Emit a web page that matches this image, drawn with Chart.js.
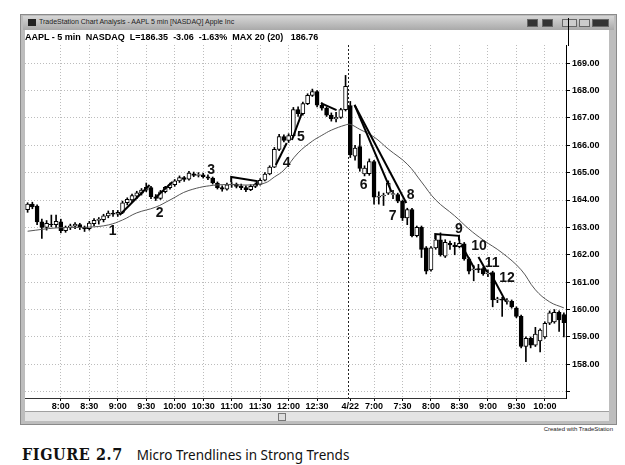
<!DOCTYPE html>
<html>
<head>
<meta charset="utf-8">
<script src="https://cdn.jsdelivr.net/npm/chart.js@4.4.1/dist/chart.umd.min.js"></script>
<style>
  body { margin: 0; width: 625px; height: 465px; background: #fff; position: relative; overflow: hidden; font-family: "Liberation Sans", Arial, sans-serif; }
  #win { position: absolute; left: 20px; top: 14px; width: 597px; height: 411px; background: #bdbdbd; border: 1px solid #8a8a8a; box-sizing: border-box; }
  #titlebar { position: absolute; left: 23px; top: 16px; width: 591px; height: 14px; background: linear-gradient(#d6d6d6, #a9a9a9); }
  #titlebar .icon { position: absolute; left: 5px; top: 3px; width: 8px; height: 7px; background: #222; }
  #titlebar .txt { position: absolute; left: 16px; top: 2px; font-size: 7px; color: #222; white-space: nowrap; }
  #titlebar .btn { position: absolute; top: 3px; height: 8px; background: #333; border: 1px solid #666; box-sizing: border-box; }
  #panel { position: absolute; left: 25px; top: 30px; width: 584px; height: 381px; background: #fff; }
  #hdr { position: absolute; left: 25px; top: 32px; font-size: 9px; font-weight: bold; color: #000; white-space: nowrap; z-index: 2; }
  #axisline { position: absolute; left: 568px; top: 18px; width: 1px; height: 28px; background: #000; z-index: 3; }
  #scroll { position: absolute; left: 25px; top: 411px; width: 584px; height: 10px; background: #e4e4e4; border-top: 1px solid #a0a0a0; box-sizing: border-box; }
  #scroll .thumb { position: absolute; left: 253px; top: 1px; width: 6px; height: 6px; border: 1px solid #777; background: #ddd; }
  #credit { position: absolute; right: 12px; top: 426px; font-size: 6px; color: #222; }
  #caption { position: absolute; left: 22px; top: 445px; white-space: nowrap; }
  #caption .fig { font-family: "DejaVu Serif Condensed", "DejaVu Serif", serif; font-weight: bold; font-size: 16px; letter-spacing: 0.6px; color: #111; }
  #caption .cap { font-family: "Noto Sans", "Open Sans", sans-serif; font-size: 13.5px; color: #111; margin-left: 14px; }
  #chart { position: absolute; left: 25px; top: 30px; z-index: 1; }
</style>
</head>
<body>
<div id="win"></div>
<div id="titlebar">
  <div class="icon"></div>
  <div class="txt">TradeStation Chart Analysis - AAPL 5 min [NASDAQ] Apple Inc</div>
  <div class="btn" style="left:504px;width:11px"></div>
  <div class="btn" style="left:519px;width:11px"></div>
  <div class="btn" style="left:539px;width:15px;background:#ccc"></div>
  <div class="btn" style="left:556px;width:11px;background:#ccc"></div>
  <div class="btn" style="left:569px;width:17px"></div>
</div>
<div id="panel"></div>
<canvas id="chart" width="582" height="381"></canvas>
<div id="hdr">AAPL - 5 min&nbsp; NASDAQ&nbsp; L=186.35&nbsp; -3.06&nbsp; -1.63%&nbsp; MAX 20 (20)&nbsp;&nbsp; 186.76</div>
<div id="axisline"></div>
<div id="scroll"><div class="thumb"></div></div>
<div id="credit">Created with TradeStation</div>
<div id="caption"><span class="fig">FIGURE 2.7</span><span class="cap">Micro Trendlines in Strong Trends</span></div>

<script>
// 5 min bars, 4/21 7:25 .. 13:00, then 4/22 6:35 .. 10:20 (one entry per bar)
const barOpen = [
  163.65,163.85,163.78,163.20,163.00,163.12,163.10,163.20,162.88,163.00,
  163.04,163.10,163.00,162.95,163.14,163.25,163.28,163.42,163.52,163.48,
  163.55,163.90,164.00,164.14,164.25,164.36,164.45,164.12,164.06,164.30,
  164.45,164.56,164.70,164.82,164.76,164.96,164.90,164.92,164.85,164.80,
  164.62,164.45,164.40,164.55,164.58,164.50,164.45,164.38,164.50,164.57,
  164.72,164.95,165.20,165.85,166.32,166.18,166.35,167.30,167.15,167.52,
  167.82,167.96,167.46,167.35,167.10,166.96,167.02,167.30,
  167.45,165.60,165.95,164.95,164.96,165.40,164.10,164.15,164.25,164.20,
  164.20,163.95,163.35,163.65,162.70,163.00,162.25,161.45,162.25,162.55,
  161.95,162.42,162.35,162.30,162.40,161.85,161.45,161.50,161.50,161.30,
  161.35,160.35,160.38,160.30,160.30,160.05,159.75,158.65,158.95,158.70,
  158.85,159.00,159.50,159.55,159.90,159.82
];
const barHigh = [
  163.90,163.92,163.82,163.30,163.25,163.45,163.45,163.30,163.05,163.12,
  163.18,163.15,163.05,163.22,163.32,163.36,163.48,163.60,163.62,163.62,
  163.96,164.08,164.22,164.32,164.42,164.62,164.50,164.20,164.35,164.50,
  164.62,164.75,164.88,164.86,165.05,165.02,165.00,164.98,164.92,164.84,
  164.66,164.52,164.62,164.64,164.62,164.58,164.52,164.56,164.62,164.78,
  165.00,165.25,165.92,166.40,166.38,166.42,167.38,167.40,167.58,167.88,
  168.05,168.00,167.55,167.40,167.18,167.20,167.35,168.55,
  167.60,166.00,166.40,165.25,165.50,165.45,164.30,164.25,164.70,164.35,
  164.25,164.00,163.70,163.70,163.05,163.05,162.30,162.30,162.70,162.80,
  162.55,162.50,162.45,162.55,162.45,161.90,161.60,161.65,161.55,161.45,
  161.40,160.45,160.45,160.40,160.35,160.10,159.80,159.00,159.00,159.35,
  159.30,159.55,159.95,160.00,159.95,159.88
];
const barLow = [
  163.55,163.68,163.10,162.60,162.90,163.02,163.00,162.80,162.82,162.92,
  162.95,162.92,162.85,162.90,163.05,163.12,163.20,163.35,163.40,163.40,
  163.50,163.82,163.92,164.05,164.18,164.30,164.05,163.98,164.02,164.26,
  164.40,164.50,164.64,164.68,164.72,164.85,164.84,164.80,164.74,164.58,
  164.40,164.32,164.36,164.46,164.44,164.38,164.30,164.34,164.45,164.54,
  164.70,164.92,165.18,165.80,166.12,166.10,166.30,167.05,167.10,167.48,
  167.78,167.40,167.28,167.05,166.88,166.85,166.98,167.25,
  165.55,165.45,165.05,164.88,164.90,163.85,163.85,163.80,164.20,164.05,
  163.90,163.25,163.10,162.65,162.65,161.90,161.30,161.40,162.20,161.95,
  161.90,162.20,162.00,162.25,161.80,161.30,161.05,161.35,161.25,161.20,
  160.10,160.25,159.75,160.20,160.05,159.70,158.60,158.10,158.60,158.65,
  158.45,158.95,159.45,159.50,159.20,159.00
];
const barClose = [
  163.85,163.75,163.20,163.00,163.15,163.10,163.22,162.88,163.00,163.06,
  163.12,163.00,162.94,163.16,163.26,163.30,163.42,163.52,163.48,163.55,
  163.90,164.02,164.16,164.26,164.36,164.46,164.12,164.06,164.30,164.46,
  164.56,164.70,164.82,164.75,164.98,164.90,164.93,164.85,164.80,164.62,
  164.45,164.40,164.55,164.58,164.50,164.45,164.38,164.50,164.57,164.72,
  164.95,165.20,165.85,166.32,166.18,166.35,167.30,167.15,167.52,167.82,
  167.96,167.46,167.35,167.10,166.96,167.02,167.30,168.15,
  165.65,165.90,165.15,165.17,165.40,164.10,164.14,164.18,164.62,164.23,
  163.96,163.35,163.65,162.70,163.00,162.20,161.40,162.25,162.55,162.00,
  162.45,162.36,162.30,162.42,161.85,161.40,161.49,161.45,161.30,161.33,
  160.35,160.39,160.34,160.33,160.10,159.75,158.65,158.95,158.70,159.10,
  159.25,159.50,159.88,159.90,159.62,159.52
];

// 20 bar average at some bars
const maIdx = [0, 6, 13, 17, 20, 23, 27, 30, 34, 40, 47, 50, 52, 54, 57, 60, 62, 64, 67,
               68, 70, 73, 76, 80, 83, 86, 90, 93, 96, 100, 104, 107, 110, 113];
const maVal = [162.86, 162.98, 163.01, 163.09, 163.27, 163.53, 163.74, 164.00, 164.35, 164.55, 164.55, 164.62, 164.84, 165.09, 165.72, 166.15, 166.36, 166.55, 166.74,
               166.76, 166.58, 166.30, 165.86, 165.31, 164.66, 164.00, 163.42, 162.94, 162.54, 162.07, 161.45, 160.72, 160.28, 160.06];

// x axis
const tickPos = [7, 13, 19, 25, 31, 37, 43, 49, 55, 61, 68, 73, 79, 85, 91, 97, 103, 109];
const tickLabels = ['8:00','8:30','9:00','9:30','10:00','10:30','11:00','11:30','12:00','12:30',
                    '4/22','7:00','7:30','8:00','8:30','9:00','9:30','10:00'];
const daySplit = 67.6;
// y axis
const priceTicks = [157, 158, 159, 160, 161, 162, 163, 164, 165, 166, 167, 168, 169];

// micro trendlines drawn on the chart: [bar, price] pairs
const trendLines = [
  [[19.4, 163.45], [25.7, 164.55]],
  [[27.1, 164.11], [30.5, 164.66]],
  [[42.9, 164.65], [42.9, 164.84], [48.3, 164.69], [48.3, 164.52]],
  [[52.3, 165.28], [54.6, 166.08]],
  [[55.7, 166.19], [57.8, 167.18]],
  [[61.8, 167.54], [65.1, 167.28]],
  [[68.9, 167.47], [76.7, 164.29]],
  [[68.9, 167.47], [79.8, 163.89]],
  [[85.9, 162.58], [85.9, 162.76], [90.9, 162.69], [90.9, 162.52]],
  [[91.4, 162.36], [94.1, 161.52]],
  [[95.0, 161.92], [96.8, 161.37]],
  [[97.5, 161.34], [100.8, 160.28]]
];
const labelText = ['1','2','3','4','5','6','7','8','9','10','11','12'];
const labelX = [17.9, 27.8, 38.7, 54.6, 57.6, 70.8, 76.9, 80.7, 90.9, 95.1, 97.9, 101.0];
const labelY = [162.87, 163.53, 165.09, 165.35, 166.30, 164.55, 163.42, 164.18, 162.94, 162.32, 161.70, 161.15];


const wickData = barHigh.map((h, i) => ({ x: i, y: [barLow[i], h] }));
const bodyData = barOpen.map((o, i) => ({ x: i, y: [o, barClose[i]] }));
const maData = maIdx.map((b, i) => ({ x: b, y: maVal[i] }));

let datasets = [
  {
    type: 'bar', data: wickData, barThickness: 1, backgroundColor: '#000',
    grouped: false, order: 3
  }, {
    type: 'bar', data: bodyData, barThickness: 4, borderWidth: 1, borderColor: '#000',
    borderSkipped: false, grouped: false, order: 2,
    backgroundColor: c => (barClose[c.dataIndex] >= barOpen[c.dataIndex] ? '#fff' : '#000')
  }, {
    type: 'line', data: maData, borderColor: '#555', borderWidth: 1,
    pointRadius: 0, tension: 0.4, order: 1
  }
];
trendLines.forEach(l => {
  datasets.push({
    type: 'line', data: l.map(p => ({ x: p[0], y: p[1] })),
    borderColor: '#000', borderWidth: 2, pointRadius: 0, tension: 0, order: 0
  });
});

// day separator + numbers
const overlay = {
  id: 'overlay',
  beforeDatasetsDraw(chart) {
    const { ctx, chartArea, scales: { x } } = chart;
    const sx = Math.round(x.getPixelForValue(daySplit)) + 0.5;
    ctx.save();
    ctx.strokeStyle = '#222';
    ctx.lineWidth = 1;
    ctx.setLineDash([2, 2]);
    ctx.beginPath();
    ctx.moveTo(sx, chartArea.top);
    ctx.lineTo(sx, chartArea.bottom);
    ctx.stroke();
    ctx.restore();
  },
  afterDatasetsDraw(chart) {
    const { ctx, scales: { x, y } } = chart;
    ctx.save();
    ctx.font = 'bold 14px "Liberation Sans", Arial, sans-serif';
    ctx.fillStyle = '#111';
    ctx.textAlign = 'center';
    ctx.textBaseline = 'middle';
    labelText.forEach((t, i) => {
      ctx.fillText(t, x.getPixelForValue(labelX[i]), y.getPixelForValue(labelY[i]));
    });
    ctx.restore();
  }
};

new Chart(document.getElementById('chart'), {
  type: 'bar',
  data: { datasets: datasets },
  plugins: [overlay],
  options: {
    responsive: false,
    animation: false,
    devicePixelRatio: 1,
    layout: { padding: { left: 0, top: 15, right: 0, bottom: 0 } },
    plugins: { legend: { display: false }, tooltip: { enabled: false } },
    scales: {
      x: {
        type: 'linear', min: -0.55, max: 113.45, offset: false,
        afterBuildTicks: s => { s.ticks = tickPos.map(v => ({ value: v })); },
        afterFit: s => { s.height = 13; },
        grid: {
          offset: false, drawTicks: true, tickLength: 3, tickColor: '#000',
          color: c => (c.index === 10 ? 'rgba(0,0,0,0)' : '#bcbcbc')
        },
        border: { display: true, color: '#333', width: 1, dash: [1, 2] },
        ticks: {
          autoSkip: false, maxRotation: 0, padding: 0, color: '#000',
          font: { family: '"Liberation Sans", Arial, sans-serif', size: 9, weight: 'bold' },
          callback: (v, i) => tickLabels[i]
        }
      },
      y: {
        position: 'right', min: 156.77, max: 169.66,
        afterBuildTicks: s => { s.ticks = priceTicks.map(v => ({ value: v })); },
        afterFit: s => { s.width = 41; },
        grid: { drawTicks: true, tickLength: 4, tickColor: '#000', color: '#bcbcbc' },
        border: { display: true, color: '#000', width: 1, dash: [1, 2] },
        ticks: {
          padding: 2, color: '#000',
          font: { family: '"Liberation Sans", Arial, sans-serif', size: 9, weight: 'bold' },
          callback: v => (v === 157 ? '' : v.toFixed(2))
        }
      }
    }
  }
});
</script>
</body>
</html>
